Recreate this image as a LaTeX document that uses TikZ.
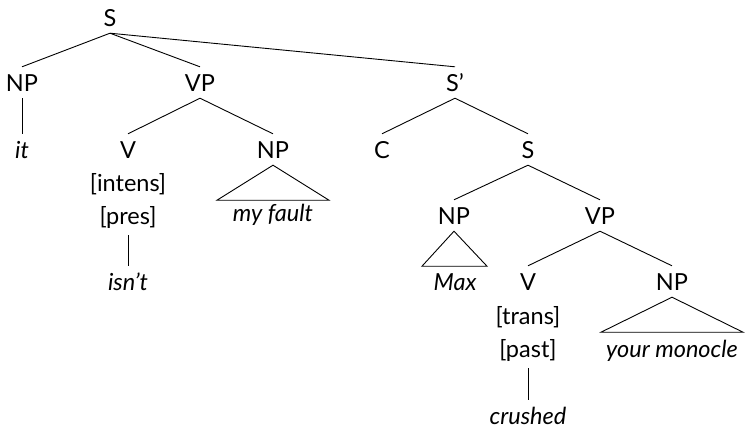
\documentclass[tikz,border=0pt]{standalone}
\usepackage{fontspec}
\setmainfont{Lato}
\usetikzlibrary{positioning}
\tikzset{
  cat/.style={inner sep=0pt,anchor=base,text height=24pt,text depth=7pt,
    font=\fontsize{23.5}{27}\selectfont},
  word/.style={cat,font=\fontsize{23.5}{27}\selectfont\itshape},
  feat/.style={cat,text height=22pt,text depth=11pt},
  branch/.style={line width=0.9pt}
}

\begin{document}
\begin{tikzpicture}[x=1pt,y=-1pt]
\useasboundingbox (0,0) rectangle (745,431);
\node[cat] (s) at (110,26) {S};
\node[cat] (np1) at (22,91) {NP};
\node[cat] (vp1) at (200,91) {VP};
\node[cat] (sbar) at (455,91) {S’};
\node[word] (it) at (22,158) {it};
\node[cat] (v1) at (128,158) {V};
\node[cat] (np2) at (273,158) {NP};
\node[cat] (c) at (382,158) {C};
\node[cat] (s2) at (528,158) {S};
\node[feat,below=33pt of v1.base,anchor=base] (intens) {[intens]};
\node[feat,below=33pt of intens.base,anchor=base] (pres) {[pres]};
\node[word,below=66pt of pres.base,anchor=base] (isnt) {isn’t};
\node[word] (fault) at (273,221) {my fault};
\node[cat] (np3) at (454,224) {NP};
\node[cat] (vp2) at (600,224) {VP};
\node[word] (max) at (455,290) {Max};
\node[cat] (v2) at (528,290) {V};
\node[cat] (np4) at (672,290) {NP};
\node[feat,below=34pt of v2.base,anchor=base] (trans) {[trans]};
\node[feat,below=33pt of trans.base,anchor=base] (past) {[past]};
\node[word,below=67pt of past.base,anchor=base] (crushed) {crushed};
\node[word] (monocle) at (672,357) {your monocle};
\draw[branch] (s.south) -- (np1.north); \draw[branch] (s.south) -- (vp1.north);
\draw[branch] (s.south) -- (sbar.north);
\draw[branch] (np1.south) -- (it.north);
\draw[branch] (vp1.south) -- (v1.north); \draw[branch] (vp1.south) -- (np2.north);
\draw[branch] (sbar.south) -- (c.north); \draw[branch] (sbar.south) -- (s2.north);
\draw[branch] (pres.south) -- (isnt.north);
\draw[branch] (s2.south) -- (np3.north); \draw[branch] (s2.south) -- (vp2.north);
\draw[branch] (vp2.south) -- (v2.north); \draw[branch] (vp2.south) -- (np4.north);
\draw[branch] (past.south) -- (crushed.north);
\draw[branch] (np2.south) -- ++(-56,35) -- ++(112,0) -- cycle;
\draw[branch] (np3.south) -- ++(-32,35) -- ++(65,0) -- cycle;
\draw[branch] (np4.south) -- ++(-71,35) -- ++(142,0) -- cycle;
\end{tikzpicture}
\end{document}
